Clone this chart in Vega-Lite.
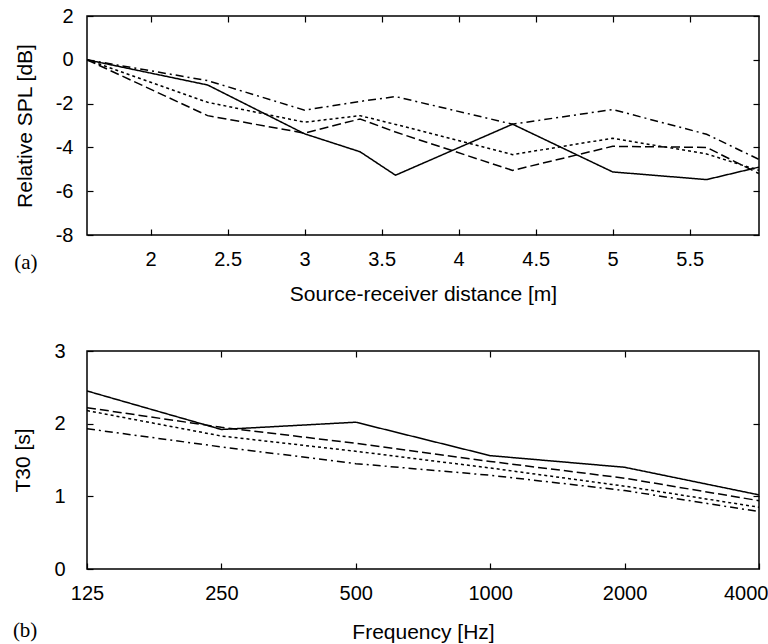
{
  "$schema": "https://vega.github.io/schema/vega-lite/v6.json",
  "padding": {"left": 12, "top": 5, "right": 5, "bottom": 5},
  "background": "white",
  "config": {
    "view": {"stroke": "black", "strokeWidth": 1.5},
    "font": "Liberation Sans",
    "axis": {
      "domain": false,
      "grid": false,
      "labelFlush": false,
      "tickColor": "black",
      "tickWidth": 1.2,
      "labelFont": "Liberation Sans",
      "labelFontSize": 20,
      "labelColor": "black",
      "titleFont": "Liberation Sans",
      "titleFontSize": 21,
      "titleFontWeight": "normal",
      "titleColor": "black"
    },
    "concat": {"spacing": 35}
  },
  "datasets": {
    "spl": [
      {"distance": 1.587, "spl": 0, "series": "s1"},
      {"distance": 2.37, "spl": -1.15, "series": "s1"},
      {"distance": 3.0, "spl": -3.38, "series": "s1"},
      {"distance": 3.36, "spl": -4.2, "series": "s1"},
      {"distance": 3.59, "spl": -5.27, "series": "s1"},
      {"distance": 4.35, "spl": -2.94, "series": "s1"},
      {"distance": 5.0, "spl": -5.12, "series": "s1"},
      {"distance": 5.61, "spl": -5.47, "series": "s1"},
      {"distance": 5.95, "spl": -4.9, "series": "s1"},
      {"distance": 1.587, "spl": 0, "series": "s2"},
      {"distance": 2.37, "spl": -2.55, "series": "s2"},
      {"distance": 3.0, "spl": -3.35, "series": "s2"},
      {"distance": 3.36, "spl": -2.7, "series": "s2"},
      {"distance": 3.59, "spl": -3.3, "series": "s2"},
      {"distance": 4.35, "spl": -5.05, "series": "s2"},
      {"distance": 5.0, "spl": -3.95, "series": "s2"},
      {"distance": 5.61, "spl": -4.0, "series": "s2"},
      {"distance": 5.95, "spl": -5.2, "series": "s2"},
      {"distance": 1.587, "spl": 0, "series": "s3"},
      {"distance": 2.37, "spl": -1.94, "series": "s3"},
      {"distance": 3.0, "spl": -2.85, "series": "s3"},
      {"distance": 3.36, "spl": -2.55, "series": "s3"},
      {"distance": 3.59, "spl": -2.95, "series": "s3"},
      {"distance": 4.35, "spl": -4.33, "series": "s3"},
      {"distance": 5.0, "spl": -3.58, "series": "s3"},
      {"distance": 5.61, "spl": -4.3, "series": "s3"},
      {"distance": 5.95, "spl": -5.05, "series": "s3"},
      {"distance": 1.587, "spl": 0, "series": "s4"},
      {"distance": 2.37, "spl": -0.95, "series": "s4"},
      {"distance": 3.0, "spl": -2.3, "series": "s4"},
      {"distance": 3.36, "spl": -1.9, "series": "s4"},
      {"distance": 3.59, "spl": -1.68, "series": "s4"},
      {"distance": 4.35, "spl": -2.94, "series": "s4"},
      {"distance": 5.0, "spl": -2.27, "series": "s4"},
      {"distance": 5.61, "spl": -3.4, "series": "s4"},
      {"distance": 5.95, "spl": -4.55, "series": "s4"}
    ],
    "t30": [
      {"frequency": 125, "t30": 2.45, "series": "s1"},
      {"frequency": 250, "t30": 1.92, "series": "s1"},
      {"frequency": 500, "t30": 2.02, "series": "s1"},
      {"frequency": 1000, "t30": 1.56, "series": "s1"},
      {"frequency": 2000, "t30": 1.4, "series": "s1"},
      {"frequency": 4000, "t30": 1.02, "series": "s1"},
      {"frequency": 125, "t30": 2.22, "series": "s2"},
      {"frequency": 250, "t30": 1.95, "series": "s2"},
      {"frequency": 500, "t30": 1.73, "series": "s2"},
      {"frequency": 1000, "t30": 1.48, "series": "s2"},
      {"frequency": 2000, "t30": 1.25, "series": "s2"},
      {"frequency": 4000, "t30": 0.94, "series": "s2"},
      {"frequency": 125, "t30": 2.18, "series": "s3"},
      {"frequency": 250, "t30": 1.83, "series": "s3"},
      {"frequency": 500, "t30": 1.62, "series": "s3"},
      {"frequency": 1000, "t30": 1.39, "series": "s3"},
      {"frequency": 2000, "t30": 1.14, "series": "s3"},
      {"frequency": 4000, "t30": 0.85, "series": "s3"},
      {"frequency": 125, "t30": 1.93, "series": "s4"},
      {"frequency": 250, "t30": 1.68, "series": "s4"},
      {"frequency": 500, "t30": 1.45, "series": "s4"},
      {"frequency": 1000, "t30": 1.29, "series": "s4"},
      {"frequency": 2000, "t30": 1.08, "series": "s4"},
      {"frequency": 4000, "t30": 0.79, "series": "s4"}
    ]
  },
  "vconcat": [
    {
      "width": 672,
      "height": 219,
      "data": {"name": "spl"},
      "title": {"text": "(a)", "orient": "bottom", "anchor": "start", "frame": "bounds", "font": "Liberation Serif", "fontSize": 21, "fontWeight": "normal", "color": "black", "baseline": "top", "offset": -52},
      "resolve": {"axis": {"x": "independent", "y": "independent"}},
      "layer": [
        {
          "mark": {"type": "line", "color": "black", "strokeWidth": 1.5, "clip": true},
          "encoding": {
            "x": {"field": "distance", "type": "quantitative", "scale": {"domain": [1.587, 5.95], "nice": false, "zero": false},
              "axis": {"title": "Source-receiver distance [m]", "values": [2, 2.5, 3, 3.5, 4, 4.5, 5, 5.5], "labelExpr": "toString(datum.value)", "tickSize": -6, "labelPadding": 20, "titlePadding": 14}},
            "y": {"field": "spl", "type": "quantitative", "scale": {"domain": [-8, 2], "nice": false, "zero": false},
              "axis": {"title": "Relative SPL [dB]", "values": [-8, -6, -4, -2, 0, 2], "labelExpr": "toString(datum.value)", "tickSize": -6, "labelPadding": 20, "titlePadding": 20}},
            "strokeDash": {"field": "series", "type": "nominal", "scale": {"domain": ["s1", "s2", "s3", "s4"], "range": [[1, 0], [9, 4], [3, 3], [8, 4, 2, 4]]}, "legend": null}
          }
        },
        {
          "mark": {"type": "line", "strokeOpacity": 0, "clip": true},
          "encoding": {
            "x": {"field": "distance", "type": "quantitative", "axis": {"orient": "top", "title": null, "labels": false, "values": [2, 2.5, 3, 3.5, 4, 4.5, 5, 5.5], "tickSize": -6}},
            "y": {"field": "spl", "type": "quantitative", "axis": {"orient": "right", "title": null, "labels": false, "values": [-8, -6, -4, -2, 0, 2], "tickSize": -6}},
            "detail": {"field": "series"}
          }
        }
      ]
    },
    {
      "width": 672,
      "height": 218,
      "data": {"name": "t30"},
      "title": {"text": "(b)", "orient": "bottom", "anchor": "start", "frame": "bounds", "font": "Liberation Serif", "fontSize": 21, "fontWeight": "normal", "color": "black", "baseline": "top", "offset": -22},
      "resolve": {"axis": {"x": "independent", "y": "independent"}},
      "layer": [
        {
          "mark": {"type": "line", "color": "black", "strokeWidth": 1.5, "clip": true},
          "encoding": {
            "x": {"field": "frequency", "type": "quantitative", "scale": {"type": "log", "base": 2, "domain": [125, 4000], "nice": false},
              "axis": {"title": "Frequency [Hz]", "values": [125, 250, 500, 1000, 2000, 4000], "labelExpr": "toString(datum.value)", "tickSize": -6, "labelPadding": 20, "titlePadding": 18,
                "labelAlign": {"condition": {"test": "datum.value == 4000", "value": "right"}, "value": "center"},
                "labelOffset": {"condition": {"test": "datum.value == 4000", "value": 9}, "value": 0}}},
            "y": {"field": "t30", "type": "quantitative", "scale": {"domain": [0, 3], "nice": false},
              "axis": {"title": "T30 [s]", "values": [0, 1, 2, 3], "labelExpr": "toString(datum.value)", "tickSize": -6, "labelPadding": 28, "titlePadding": 20}},
            "strokeDash": {"field": "series", "type": "nominal", "scale": {"domain": ["s1", "s2", "s3", "s4"], "range": [[1, 0], [9, 4], [3, 3], [8, 4, 2, 4]]}, "legend": null}
          }
        },
        {
          "mark": {"type": "line", "strokeOpacity": 0, "clip": true},
          "encoding": {
            "x": {"field": "frequency", "type": "quantitative", "axis": {"orient": "top", "title": null, "labels": false, "values": [250, 500, 1000, 2000], "tickSize": -6}},
            "y": {"field": "t30", "type": "quantitative", "axis": {"orient": "right", "title": null, "labels": false, "values": [1, 2], "tickSize": -6}},
            "detail": {"field": "series"}
          }
        }
      ]
    }
  ]
}
